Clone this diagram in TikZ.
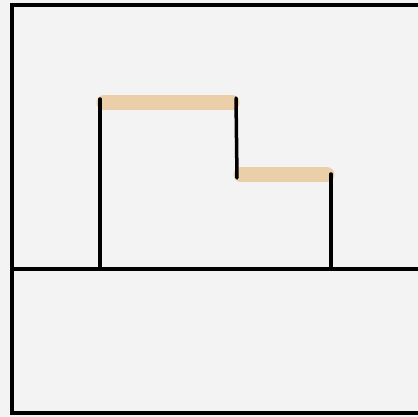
\documentclass[tikz,border=0pt]{standalone}
\begin{document}
\begin{tikzpicture}[x=1pt,y=-1pt,
  ink/.style={line width=3.5pt,black,line cap=round},
  tan/.style={line width=15pt,color={rgb,255:red,234;green,207;blue,169},line cap=round}]
\useasboundingbox (0,0) rectangle (418,417);
\fill[color={rgb,255:red,243;green,243;blue,243}] (0,0) rectangle (418,417);
\begin{scope}
\clip (0,0) rectangle (418,417);
% outer frame
\draw[ink,line cap=butt] (430,5) -- (12,5) -- (12,413) -- (430,413);
% ground line
\draw[ink,line cap=butt] (12,269) -- (430,269);
% tan tops
\draw[tan] (104,103) -- (232,103);
\draw[tan] (241,175) -- (327,175);
% walls
\draw[ink] (100,99) -- (100,268);
\draw[ink] (236,98) -- (237,178);
\draw[ink] (331,174) -- (331,268);
\end{scope}
\end{tikzpicture}
\end{document}
